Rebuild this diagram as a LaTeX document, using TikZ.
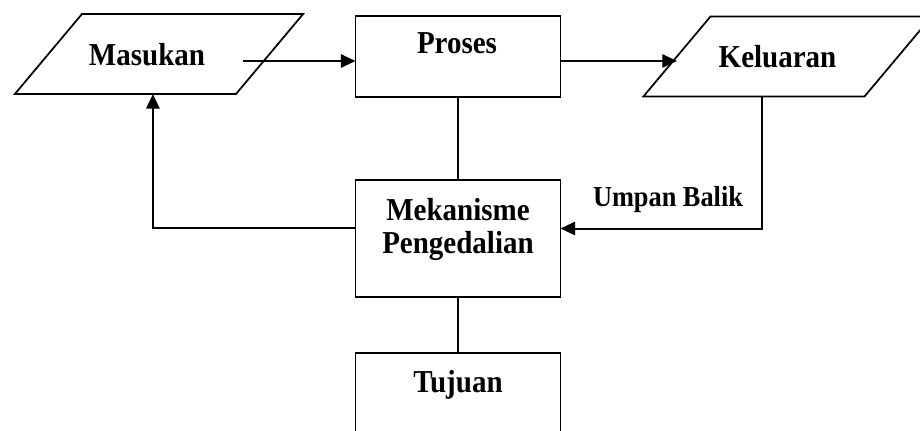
\documentclass[tikz,border=0pt]{standalone}
\usepackage{fontspec}
\setmainfont{Liberation Serif}
\usetikzlibrary{shapes.geometric,arrows.meta}

\newcommand{\tall}[1]{\scalebox{1}[1.1]{#1}}

\begin{document}
\begin{tikzpicture}[x=0.75pt,y=-0.75pt,
            every node/.style={outer sep=0pt},
            io/.style={draw,line width=1.3pt,trapezium,trapezium left angle=50,trapezium right angle=130,
                inner xsep=57.75pt,inner ysep=30pt},
            box/.style={draw,line width=1.3pt,minimum width=153.75pt},
            txt/.style={font=\fontsize{21.75}{24.75}\selectfont\bfseries,inner sep=0pt,align=center},
            arr/.style={-{Triangle[length=11pt,width=10pt]},line width=1.5pt},
            plain/.style={line width=0.9pt}]
                \useasboundingbox (0,0) rectangle (920,431);
                \node[io] (masuk) at (159,54) {};
                \node[box,minimum height=60.75pt] (proses) at (458,56.5) {};
                \node[io] (keluar) at (787.5,56.5) {};
                \node[box,minimum height=87.75pt] (meka) at (458,238.5) {};
                \node[box,minimum height=87.75pt] (tujuan) at (458,411.5) {};

                \node[txt,anchor=base] (t-masuk) at (147,66) {\tall{Masukan}};
                \node[txt,anchor=base] (t-proses) at (457,54) {\tall{Proses}};
                \node[txt,anchor=base] (t-keluar) at (777.5,68) {\tall{Keluaran}};
                \node[txt,anchor=base] (t-meka) at (458,253) {\tall{Mekanisme}\\\tall{Pengedalian}};
                \node[txt,anchor=base] (t-tujuan) at (458,392) {\tall{Tujuan}};
                \node[txt,anchor=base,font=\fontsize{19.75}{22}\selectfont\bfseries] (t-umpan) at (668,206) {\tall{Umpan Balik}};

                \coordinate (m-out) at (243,61);

            \begin{scope}[arr]
                \draw (m-out) -- (m-out -| proses.west);
                \draw (m-out -| proses.east) -- (m-out -| keluar.west);
                \draw ([yshift=7.875pt]meka.west) -| ([xshift=20.6pt]masuk.bottom side);
                \draw ([xshift=6pt]keluar.bottom side) |- ([yshift=7.5pt]meka.east);
            \end{scope}
            \begin{scope}[plain]
                \draw (proses.south) -- (meka.north);
                \draw (meka.south) -- (tujuan.north);
            \end{scope}
        \end{tikzpicture}
\end{document}
